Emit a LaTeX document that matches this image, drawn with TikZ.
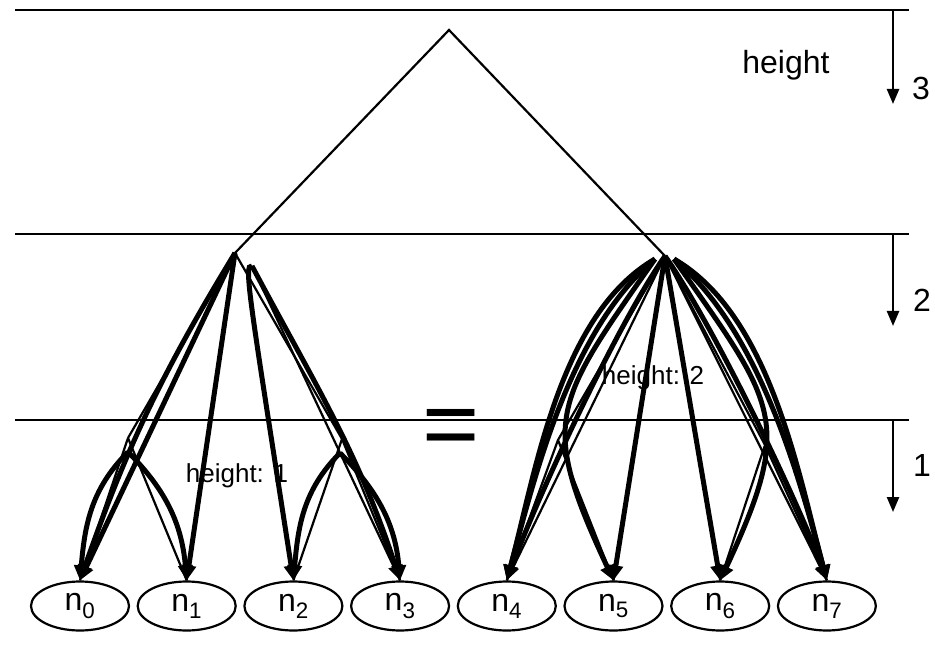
\documentclass[tikz,border=0pt]{standalone}
\usepackage{fontspec}
\setmainfont{Liberation Sans}
\usetikzlibrary{shapes.geometric,arrows.meta}

\tikzstyle{leaf} = [ellipse, draw, line width=2.2pt, minimum width=98pt, minimum height=49pt, inner sep=0pt, font=\fontsize{32pt}{36pt}\selectfont]
\tikzstyle{level} = [line width=2.4pt]
\tikzstyle{wire} = [line width=2.2pt]
\tikzstyle{hop} = [line width=5pt, -{Triangle[length=15pt,width=14pt]}]
\tikzstyle{drop} = [line width=2.4pt, -{Triangle[length=15pt,width=12pt]}]
\tikzstyle{big} = [font=\fontsize{32pt}{36pt}\selectfont, inner sep=0pt]
\tikzstyle{small} = [font=\fontsize{26pt}{30pt}\selectfont, inner sep=0pt]

\begin{document}
\begin{tikzpicture}[x=1pt,y=1pt]
\useasboundingbox (0,0) rectangle (935,-647);
%levels
\draw[level] (15,-10) -- (909,-10);
\draw[level] (15,-234) -- (909,-234);
\draw[level] (15,-420) -- (909,-420);
\coordinate (h3a) at (893,-10);
\coordinate (h3b) at (893,-104);
\coordinate (h2a) at (893,-234);
\coordinate (h2b) at (893,-326);
\coordinate (h1a) at (893,-420);
\coordinate (h1b) at (893,-512);
\draw[drop] (h3a) -- (h3b);
\draw[drop] (h2a) -- (h2b);
\draw[drop] (h1a) -- (h1b);
\node[big] (hgt) at (786,-65) {height};
\node[big] (lab3) at (921,-88) {3};
\node[big] (lab2) at (922,-300) {2};
\node[big] (lab1) at (922,-465) {1};
%leaves
\foreach \i in {0,...,7}
    \node[leaf] (n\i) at ({80+106.7*\i},-606) {n\textsubscript{\i}};
%top
\coordinate (top) at (449,-30);
\coordinate (L) at (235,-253);
\coordinate (R) at (665,-256);
\draw[wire] (L) -- (top) -- (R);
%begin left subtree
\coordinate (Lb) at (252,-266);
\coordinate (ML) at (128,-438);
\coordinate (MLt) at (128,-452);
\coordinate (MR) at (342,-439);
\coordinate (MRt) at (340,-453);
\draw[wire] (L) -- (ML) (L) -- (MR);
\draw[wire] (ML) -- (n0.north) (ML) -- (n1.north);
\draw[wire] (MR) -- (n2.north) (MR) -- (n3.north);
\draw[wire] (L) -- (n1.north);
\draw[wire] (Lb) -- (n3.north);
\draw[hop] (L) -- (n0.north);
\draw[hop] (L) to[bend right=6] (n0.north);
\draw[hop] (L) -- (n1.north);
\draw[hop] (Lb) .. controls (243,-263) and (250,-300) .. (n2.north);
\draw[hop] (Lb) to[out=-62,in=108] (n3.north);
\draw[hop] (MLt) to[out=225,in=85] (n0.north);
\draw[hop] (MLt) to[out=-45,in=95] (n1.north);
\draw[hop] (MRt) to[out=225,in=85] (n2.north);
\draw[hop] (MRt) to[out=-45,in=95] (n3.north);
\node[small] (hl1) at (237,-476) {height: 1};
%end left subtree
%begin right subtree
\coordinate (Rl) at (655,-259);
\coordinate (Rr) at (674,-259);
\coordinate (A4) at (558,-440);
\coordinate (A6) at (765,-445);
\draw[wire] (R) -- (n4.north) (R) -- (n5.north) (R) -- (n6.north) (R) -- (n7.north);
\draw[wire] (R) -- (A4) -- (n5.north) (A4) -- (n4.north);
\draw[wire] (R) -- (A6) -- (n6.north) (A6) -- (n7.north);
\draw[hop] (Rl) to[out=210,in=75,looseness=0.8] (n4.north);
\draw[hop] (Rl) to[out=220,in=75,looseness=0.8] (n4.north);
\draw[hop] (R) to[out=235,in=70,looseness=0.6] (n4.north);
\draw[hop] (Rl) to[out=235,in=115,looseness=1.4] (n5.north);
\draw[hop] (R) -- (n5.north);
\draw[hop] (R) -- (n6.north);
\draw[hop] (Rr) to[out=-55,in=65,looseness=1.4] (n6.north);
\draw[hop] (Rr) to[out=-30,in=105,looseness=0.8] (n7.north);
\draw[hop] (Rr) to[out=-40,in=105,looseness=0.8] (n7.north);
\draw[hop] (R) to[out=-55,in=110,looseness=0.6] (n7.north);
\node[small] (hl2) at (653,-378) {height: 2};
%end right subtree
\node[font=\fontsize{98pt}{98pt}\selectfont, anchor=base, inner sep=0pt] (eq) at (451,-457) {=};
\end{tikzpicture}
\end{document}
